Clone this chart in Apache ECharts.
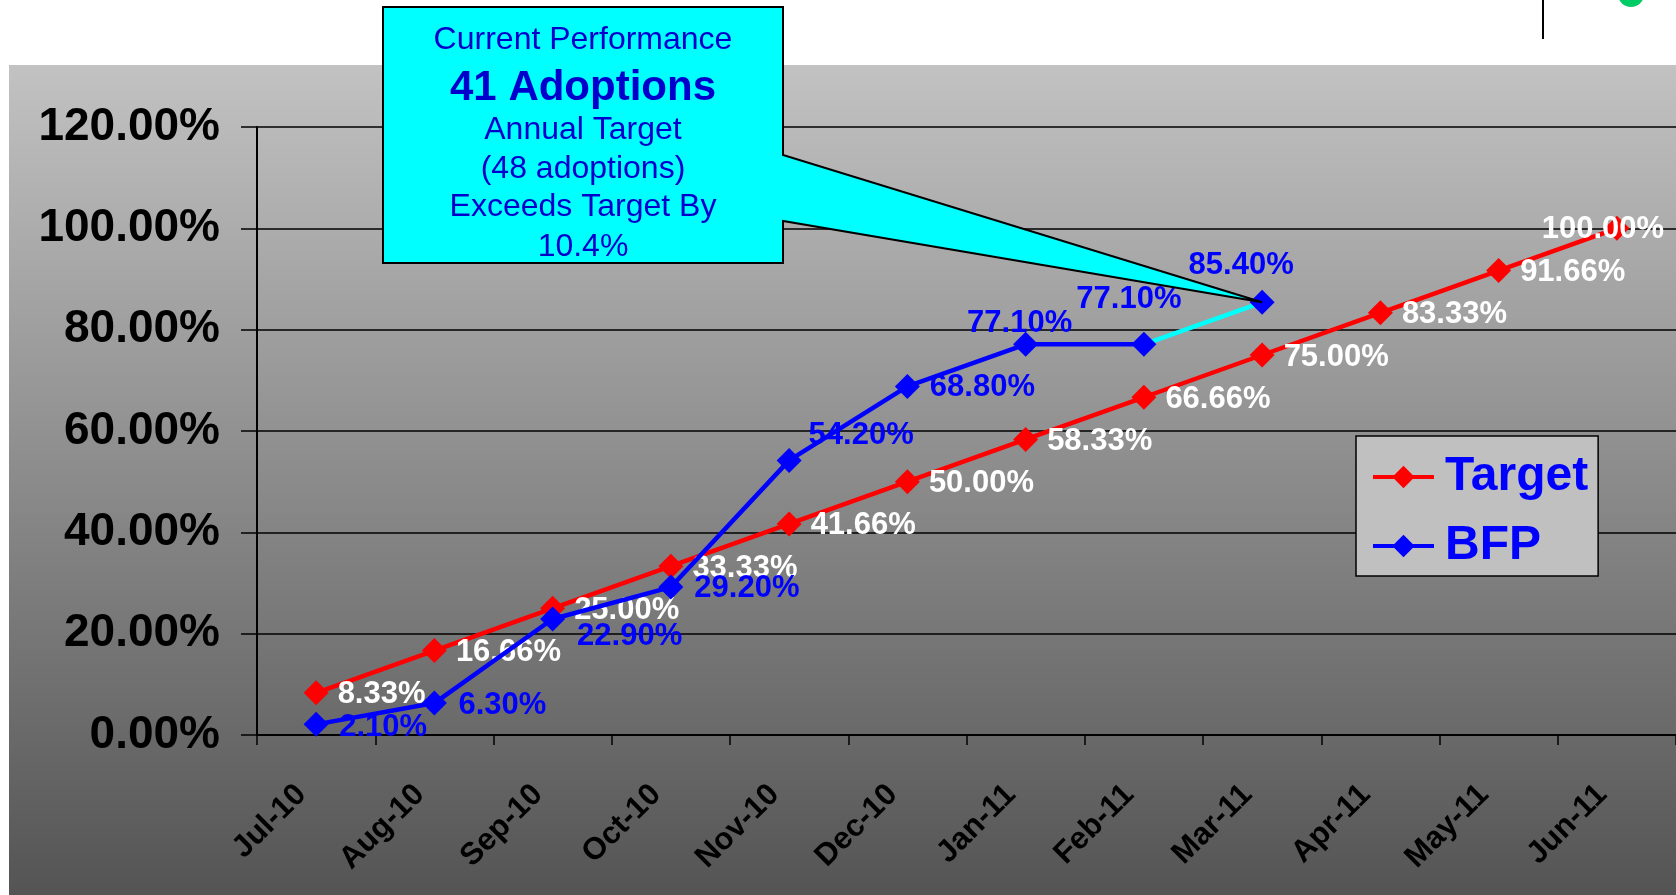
<!DOCTYPE html>
<html>
<head>
<meta charset="utf-8">
<script src="https://cdn.jsdelivr.net/npm/echarts@6/dist/echarts.min.js"></script>
<style>
  html, body { margin: 0; padding: 0; background: #ffffff; }
  #chart { width: 1676px; height: 895px; }
</style>
</head>
<body>
<div id="chart"></div>
<script>
// Monthly cumulative adoption performance vs. target
const months = ['Jul-10', 'Aug-10', 'Sep-10', 'Oct-10', 'Nov-10', 'Dec-10',
                'Jan-11', 'Feb-11', 'Mar-11', 'Apr-11', 'May-11', 'Jun-11'];
const targetPct = [8.33, 16.66, 25.00, 33.33, 41.66, 50.00, 58.33, 66.66, 75.00, 83.33, 91.66, 100.00];
const bfpPct = [2.10, 6.30, 22.90, 29.20, 54.20, 68.80, 77.10, 77.10, 85.40];
const yMin = 0, yMax = 120, yStep = 20;
const calloutLines = ['Current Performance', '41 Adoptions', 'Annual Target',
                      '(48 adoptions)', 'Exceeds Target By', '10.4%'];

const FONT = "'Liberation Sans', Arial, Helvetica, sans-serif";

// label placement for each BFP point (centre offset from the marker)
const bfpLabelOffset = [[67, 3], [68, 2], [77, 17], [76, 1], [72, -25], [75, 1], [-6, -21], [-15, -45], [-21, -37]];

const pctLabel = v => v.toFixed(2) + '%';

const bfpLabelStyle = (i) => ({
  show: true, position: 'inside', offset: bfpLabelOffset[i],
  color: '#0000ff', fontSize: 31, fontWeight: 'bold', fontFamily: FONT,
  formatter: p => pctLabel(p.value)
});

// Target line: labels sit to the right; the final one is pulled back inside the frame
const lastT = targetPct.length - 1;
const targetData = targetPct.map((v, i) => i === lastT
  ? { value: v, label: { position: 'inside', offset: [-14, 1] } }
  : v);

// BFP: blue through Feb-11, the newest month drawn as a cyan segment
const lastB = bfpPct.length - 1;
const bfpMain = bfpPct.slice(0, lastB).map((v, i) => ({ value: v, label: bfpLabelStyle(i) }));
const bfpRecent = months.map((m, i) => {
  if (i === lastB - 1) return { value: bfpPct[i], symbol: 'none', label: { show: false } };
  if (i === lastB) return { value: bfpPct[i], label: bfpLabelStyle(i) };
  return '-';
});

const MARK = 25;

const chart = echarts.init(document.getElementById('chart'), null, { renderer: 'canvas' });

chart.setOption({
  backgroundColor: '#ffffff',
  animation: false,
  grid: { left: 257, right: -3, top: 127, bottom: 160, containLabel: false },
  xAxis: {
    type: 'category',
    data: months,
    boundaryGap: true,
    axisLine: { lineStyle: { color: '#000', width: 2 } },
    axisTick: { show: true, length: 10, interval: 0, lineStyle: { color: '#000', width: 1.5 } },
    axisLabel: {
      interval: 0, rotate: 45, margin: 40,
      color: '#000', fontSize: 31, fontWeight: 'bold', fontFamily: FONT,
      padding: [0, 21, 0, 0]
    },
    splitLine: { show: false }
  },
  yAxis: {
    type: 'value',
    min: yMin, max: yMax, interval: yStep,
    axisLine: { show: true, lineStyle: { color: '#000', width: 2 } },
    axisTick: { show: true, length: 16, lineStyle: { color: '#000', width: 1.5 } },
    axisLabel: {
      margin: 37, color: '#000', fontSize: 46, fontWeight: 'bold', fontFamily: FONT,
      formatter: v => pctLabel(v)
    },
    splitLine: { show: true, lineStyle: { color: '#000', width: 1.5 } }
  },
  legend: {
    data: ['Target', 'BFP'],
    orient: 'vertical',
    left: 1356, top: 436,
    backgroundColor: '#c0c0c0',
    borderColor: '#000', borderWidth: 1.5, borderRadius: 0,
    padding: [17, 10, 6, 15],
    itemGap: 21, itemWidth: 61, itemHeight: 28,
    lineStyle: { width: 4 },
    textStyle: { color: '#0000ff', fontSize: 48, fontWeight: 'bold', fontFamily: FONT, padding: [0, 0, 0, 6] }
  },
  series: [
    {
      name: 'Target',
      type: 'line',
      z: 2,
      data: targetData,
      symbol: 'diamond', symbolSize: MARK,
      lineStyle: { color: '#ff0000', width: 4.5 },
      itemStyle: { color: '#ff0000' },
      label: {
        show: true, position: 'right', distance: 9, offset: [0, 2],
        color: '#ffffff', fontSize: 31, fontWeight: 'bold', fontFamily: FONT,
        formatter: p => pctLabel(p.value)
      }
    },
    {
      name: 'BFP',
      type: 'line',
      z: 4,
      data: bfpMain,
      symbol: 'diamond', symbolSize: MARK,
      lineStyle: { color: '#0000ff', width: 4.5 },
      itemStyle: { color: '#0000ff' }
    },
    {
      name: 'BFP',
      type: 'line',
      z: 3,
      data: bfpRecent,
      symbol: 'diamond', symbolSize: MARK,
      lineStyle: { color: '#00ffff', width: 4.5 },
      itemStyle: { color: '#0000ff' }
    }
  ]
});

// Callout box with a pointer ending at the latest BFP point
const tip = chart.convertToPixel({ xAxisIndex: 0, yAxisIndex: 0 }, [lastB, bfpPct[lastB]]);
const box = { x1: 383, y1: 7, x2: 783, y2: 263, p1: 155, p2: 221 };
const cx = (box.x1 + box.x2) / 2;
const lineY = [40, 88, 130, 169, 207, 247];

const graphics = [
  {
    type: 'rect', z: -100, silent: true,
    shape: { x: 9, y: 65, width: 1676 - 9, height: 895 - 65 },
    style: {
      fill: new echarts.graphic.LinearGradient(0, 0, 0, 1, [
        { offset: 0, color: '#c2c2c2' },
        { offset: 1, color: '#545454' }
      ])
    }
  },
  {
    type: 'line', z: -50, silent: true,
    shape: { x1: 1543, y1: 0, x2: 1543, y2: 39 },
    style: { stroke: '#000', lineWidth: 2 }
  },
  {
    type: 'circle', z: -50, silent: true,
    shape: { cx: 1631, cy: -6, r: 13 },
    style: { fill: '#00cc66' }
  },
  {
    type: 'polygon', z: 100, silent: true,
    shape: {
      points: [[box.x1, box.y1], [box.x2, box.y1], [box.x2, box.p1], tip,
               [box.x2, box.p2], [box.x2, box.y2], [box.x1, box.y2]]
    },
    style: { fill: '#00ffff', stroke: '#000', lineWidth: 2, lineJoin: 'miter' }
  }
];

calloutLines.forEach((t, i) => {
  graphics.push({
    type: 'text', z: 101, silent: true,
    x: cx, y: lineY[i],
    style: {
      text: t, fill: '#0000cc',
      font: (i === 1 ? 'bold 42px ' : '32px ') + FONT,
      textAlign: 'center', textVerticalAlign: 'middle'
    }
  });
});

chart.setOption({ graphic: graphics });
</script>
</body>
</html>
